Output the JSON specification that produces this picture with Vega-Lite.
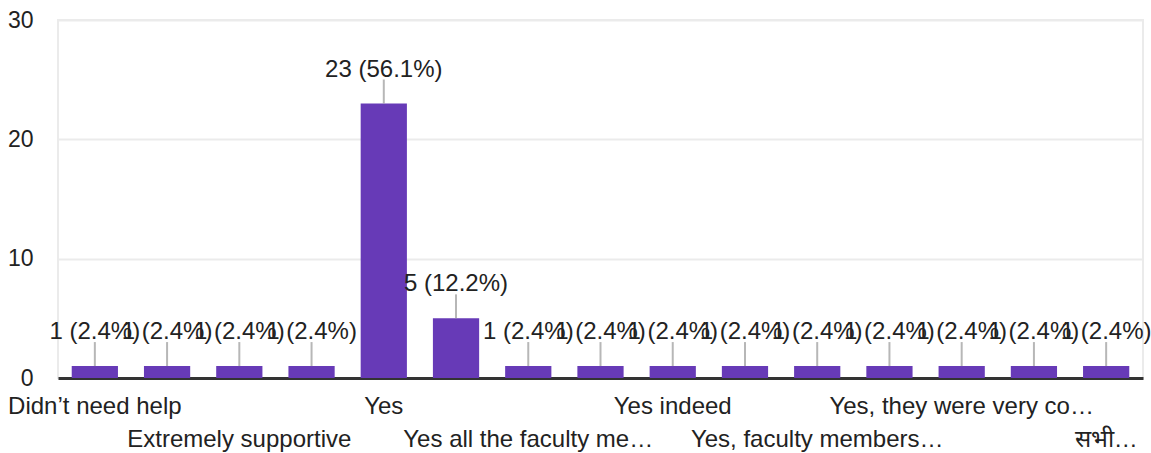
{
  "$schema": "https://vega.github.io/schema/vega-lite/v6.json",
  "width": 1085,
  "height": 358,
  "autosize": {"type": "none"},
  "padding": {"left": 58, "top": 20, "right": 8, "bottom": 75},
  "config": {
    "font": "Liberation Sans",
    "view": {"stroke": "#ebebeb", "strokeWidth": 2},
    "axis": {"labelFont": "Liberation Sans", "labelColor": "#222222"}
  },
  "data": {
    "values": [
      {"answer": "Didn’t need help", "count": 1, "label": "1 (2.4%)"},
      {"answer": "Don’t know", "count": 1, "label": "1 (2.4%)"},
      {"answer": "Extremely supportive", "count": 1, "label": "1 (2.4%)"},
      {"answer": "Very helpful", "count": 1, "label": "1 (2.4%)"},
      {"answer": "Yes", "count": 23, "label": "23 (56.1%)"},
      {"answer": "Yes ", "count": 5, "label": "5 (12.2%)"},
      {"answer": "Yes all the faculty me…", "count": 1, "label": "1 (2.4%)"},
      {"answer": "Yes definitely", "count": 1, "label": "1 (2.4%)"},
      {"answer": "Yes indeed", "count": 1, "label": "1 (2.4%)"},
      {"answer": "Yes of course", "count": 1, "label": "1 (2.4%)"},
      {"answer": "Yes, faculty members…", "count": 1, "label": "1 (2.4%)"},
      {"answer": "Yes, they helped", "count": 1, "label": "1 (2.4%)"},
      {"answer": "Yes, they were very co…", "count": 1, "label": "1 (2.4%)"},
      {"answer": "Yes, very supportive", "count": 1, "label": "1 (2.4%)"},
      {"answer": "सभी…", "count": 1, "label": "1 (2.4%)"}
    ]
  },
  "encoding": {
    "x": {
      "field": "answer",
      "type": "nominal",
      "sort": null,
      "scale": {"paddingInner": 0.36, "paddingOuter": 0.19},
      "axis": {
        "title": null,
        "labelAngle": 0,
        "labelFontSize": 24,
        "ticks": false,
        "domainColor": "#333333",
        "domainWidth": 3,
        "labelPadding": 16,
        "labelBaseline": "top",
        "labelLineHeight": 33,
        "labelOverlap": false,
        "labelLimit": 400,
        "labelExpr": "indexof(['Didn’t need help','Yes','Yes indeed','Yes, they were very co…'], datum.value) >= 0 ? datum.value : (indexof(['Extremely supportive','Yes all the faculty me…','Yes, faculty members…','सभी…'], datum.value) >= 0 ? ['', datum.value] : '')"
      }
    },
    "y": {
      "field": "count",
      "type": "quantitative",
      "scale": {"domain": [0, 30]},
      "axis": {
        "title": null,
        "values": [0, 10, 20, 30],
        "labelFontSize": 23,
        "ticks": false,
        "domain": false,
        "labelPadding": 25,
        "gridColor": "#ebebeb",
        "gridWidth": 2
      }
    }
  },
  "layer": [
    {"mark": {"type": "bar", "color": "#673ab7"}},
    {"mark": {"type": "tick", "orient": "vertical", "size": 24, "thickness": 2, "color": "#999999", "yOffset": -12}},
    {
      "mark": {"type": "text", "fontSize": 24, "font": "Liberation Sans", "color": "#222222", "baseline": "alphabetic", "dy": -27},
      "encoding": {"text": {"field": "label"}}
    }
  ]
}
